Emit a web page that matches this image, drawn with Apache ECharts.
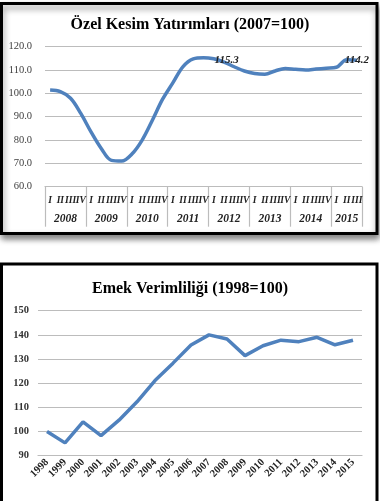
<!DOCTYPE html>
<html><head><meta charset="utf-8">
<script src="https://cdn.jsdelivr.net/npm/echarts@6/dist/echarts.min.js"></script>
<style>html,body{margin:0;padding:0;background:#fff}#c{width:380px;height:501px}</style>
</head><body><div id="c"></div>
<script>
// ---- Data ----
const title1 = 'Özel Kesim Yatırımları (2007=100)';
const title2 = 'Emek Verimliliği (1998=100)';
const years1 = ['2008','2009','2010','2011','2012','2013','2014','2015'];
const quartersPerYear = [4,4,4,4,4,4,4,3];
const quarterNames = ['I','II','III','IV'];
const privateInvestment = [101.4, 100.7, 97.9, 91.4, 83.5, 76.4, 71.3, 71.0, 74.0, 80.0, 88.5, 97.5,
  104.5, 111.5, 114.8, 115.3, 114.8, 113.4, 111.4, 109.6, 108.5, 108.2, 109.6, 110.7,
  110.3, 110.0, 110.4, 110.8, 111.2, 114.4, 114.2];
const labelledPoints1 = [15, 30];
const yTicks1 = [60, 70, 80, 90, 100, 110, 120];

const years2 = ['1998','1999','2000','2001','2002','2003','2004','2005','2006','2007','2008','2009','2010','2011','2012','2013','2014','2015'];
const laborProductivity = [100.0, 95.3, 104.0, 98.3, 104.7, 112.3, 121.1, 128.3, 135.8, 140.0, 138.3, 131.4, 135.5, 137.8, 137.2, 139.0, 135.9, 137.8];
const yTicks2 = [90, 100, 110, 120, 130, 140, 150];

// ---- derived ----
const quarterLabels = [];
const yearBounds = [0];
const yearCenters = [];
quartersPerYear.forEach((n, i) => {
  for (let q = 0; q < n; q++) quarterLabels.push(quarterNames[q]);
  const start = yearBounds[yearBounds.length - 1];
  yearCenters.push(start + n / 2);
  yearBounds.push(start + n);
});

const serif = 'Liberation Serif';
const blue = '#4f81bd';
const gridGray = '#bcbcbc';

const chart = echarts.init(document.getElementById('c'), null, {renderer: 'canvas'});

const data1 = privateInvestment.map((v, i) => {
  if (i === labelledPoints1[0]) return {value: v, label: {show: true, position: 'right', distance: 11, offset: [0, 2], formatter: String(v.toFixed(1))}};
  if (i === labelledPoints1[1]) return {value: v, label: {show: true, position: 'inside', formatter: String(v.toFixed(1))}};
  return v;
});

chart.setOption({
  animation: false,
  graphic: [
    {type: 'rect', z: -10, shape: {x: 1.5, y: 3.5, width: 375.5, height: 230}, style: {fill: '#fff', stroke: '#000', lineWidth: 3, shadowBlur: 6, shadowOffsetY: 4, shadowOffsetX: 1, shadowColor: 'rgba(0,0,0,0.45)'}},
    {type: 'rect', z: -10, shape: {x: 1.5, y: 264, width: 375.5, height: 245}, style: {fill: '#fff', stroke: '#000', lineWidth: 3}}
  ],
  title: [
    {text: title1, left: 'center', top: 12, textStyle: {fontFamily: serif, fontWeight: 'bold', fontSize: 16, color: '#000'}},
    {text: title2, left: 'center', top: 276, textStyle: {fontFamily: serif, fontWeight: 'bold', fontSize: 16, color: '#000'}}
  ],
  grid: [
    {left: 45, right: 18, top: 46.7, height: 140, containLabel: false},
    {left: 38, right: 18, top: 310.7, height: 145, containLabel: false}
  ],
  xAxis: [
    {type: 'category', gridIndex: 0, position: 'bottom', data: quarterLabels, boundaryGap: true,
     axisLine: {lineStyle: {color: gridGray, width: 1.2}}, axisTick: {show: false},
     axisLabel: {interval: 0, fontFamily: serif, fontStyle: 'italic', fontWeight: 'bold', fontSize: 9.5, color: '#222', margin: 9}},
    {type: 'value', gridIndex: 0, position: 'bottom', min: 0, max: yearBounds[yearBounds.length - 1],
     axisLine: {show: false}, splitLine: {show: false},
     axisTick: {show: true, customValues: yearBounds, length: 40, lineStyle: {color: gridGray, width: 1.2}},
     axisLabel: {customValues: yearCenters, formatter: v => { const i = yearCenters.indexOf(v); return i >= 0 ? years1[i] : ''; },
       fontFamily: serif, fontStyle: 'italic', fontWeight: 'bold', fontSize: 11.5, color: '#222', margin: 26}},
    {type: 'category', gridIndex: 1, data: years2, boundaryGap: true,
     axisLine: {lineStyle: {color: gridGray, width: 1.2}}, axisTick: {show: false},
     axisLabel: {interval: 0, rotate: 45, fontFamily: serif, fontWeight: 'bold', fontSize: 10.5, color: '#222', margin: 5}}
  ],
  yAxis: [
    {type: 'value', gridIndex: 0, min: yTicks1[0], max: yTicks1[yTicks1.length - 1], interval: 10,
     axisLine: {show: false}, axisTick: {show: false},
     splitLine: {lineStyle: {color: gridGray, width: 1.2}},
     axisLabel: {formatter: v => v.toFixed(1), fontFamily: serif, fontSize: 10.5, color: '#404040', margin: 13}},
    {type: 'value', gridIndex: 1, min: yTicks2[0], max: yTicks2[yTicks2.length - 1], interval: 10,
     axisLine: {show: false}, axisTick: {show: false},
     splitLine: {lineStyle: {color: gridGray, width: 1.2}},
     axisLabel: {fontFamily: serif, fontWeight: 'bold', fontSize: 10.5, color: '#333', margin: 9}}
  ],
  series: [
    {type: 'line', xAxisIndex: 0, yAxisIndex: 0, data: data1, smooth: 0.35,
     showSymbol: true, symbol: 'circle', symbolSize: 0,
     lineStyle: {color: blue, width: 3.5}, itemStyle: {color: blue},
     label: {show: false, fontFamily: serif, fontStyle: 'italic', fontWeight: 'bold', fontSize: 11, color: '#222'}},
    {type: 'line', xAxisIndex: 2, yAxisIndex: 1, data: laborProductivity, smooth: false,
     showSymbol: false, lineStyle: {color: blue, width: 3.5}, itemStyle: {color: blue}}
  ]
});
</script></body></html>
